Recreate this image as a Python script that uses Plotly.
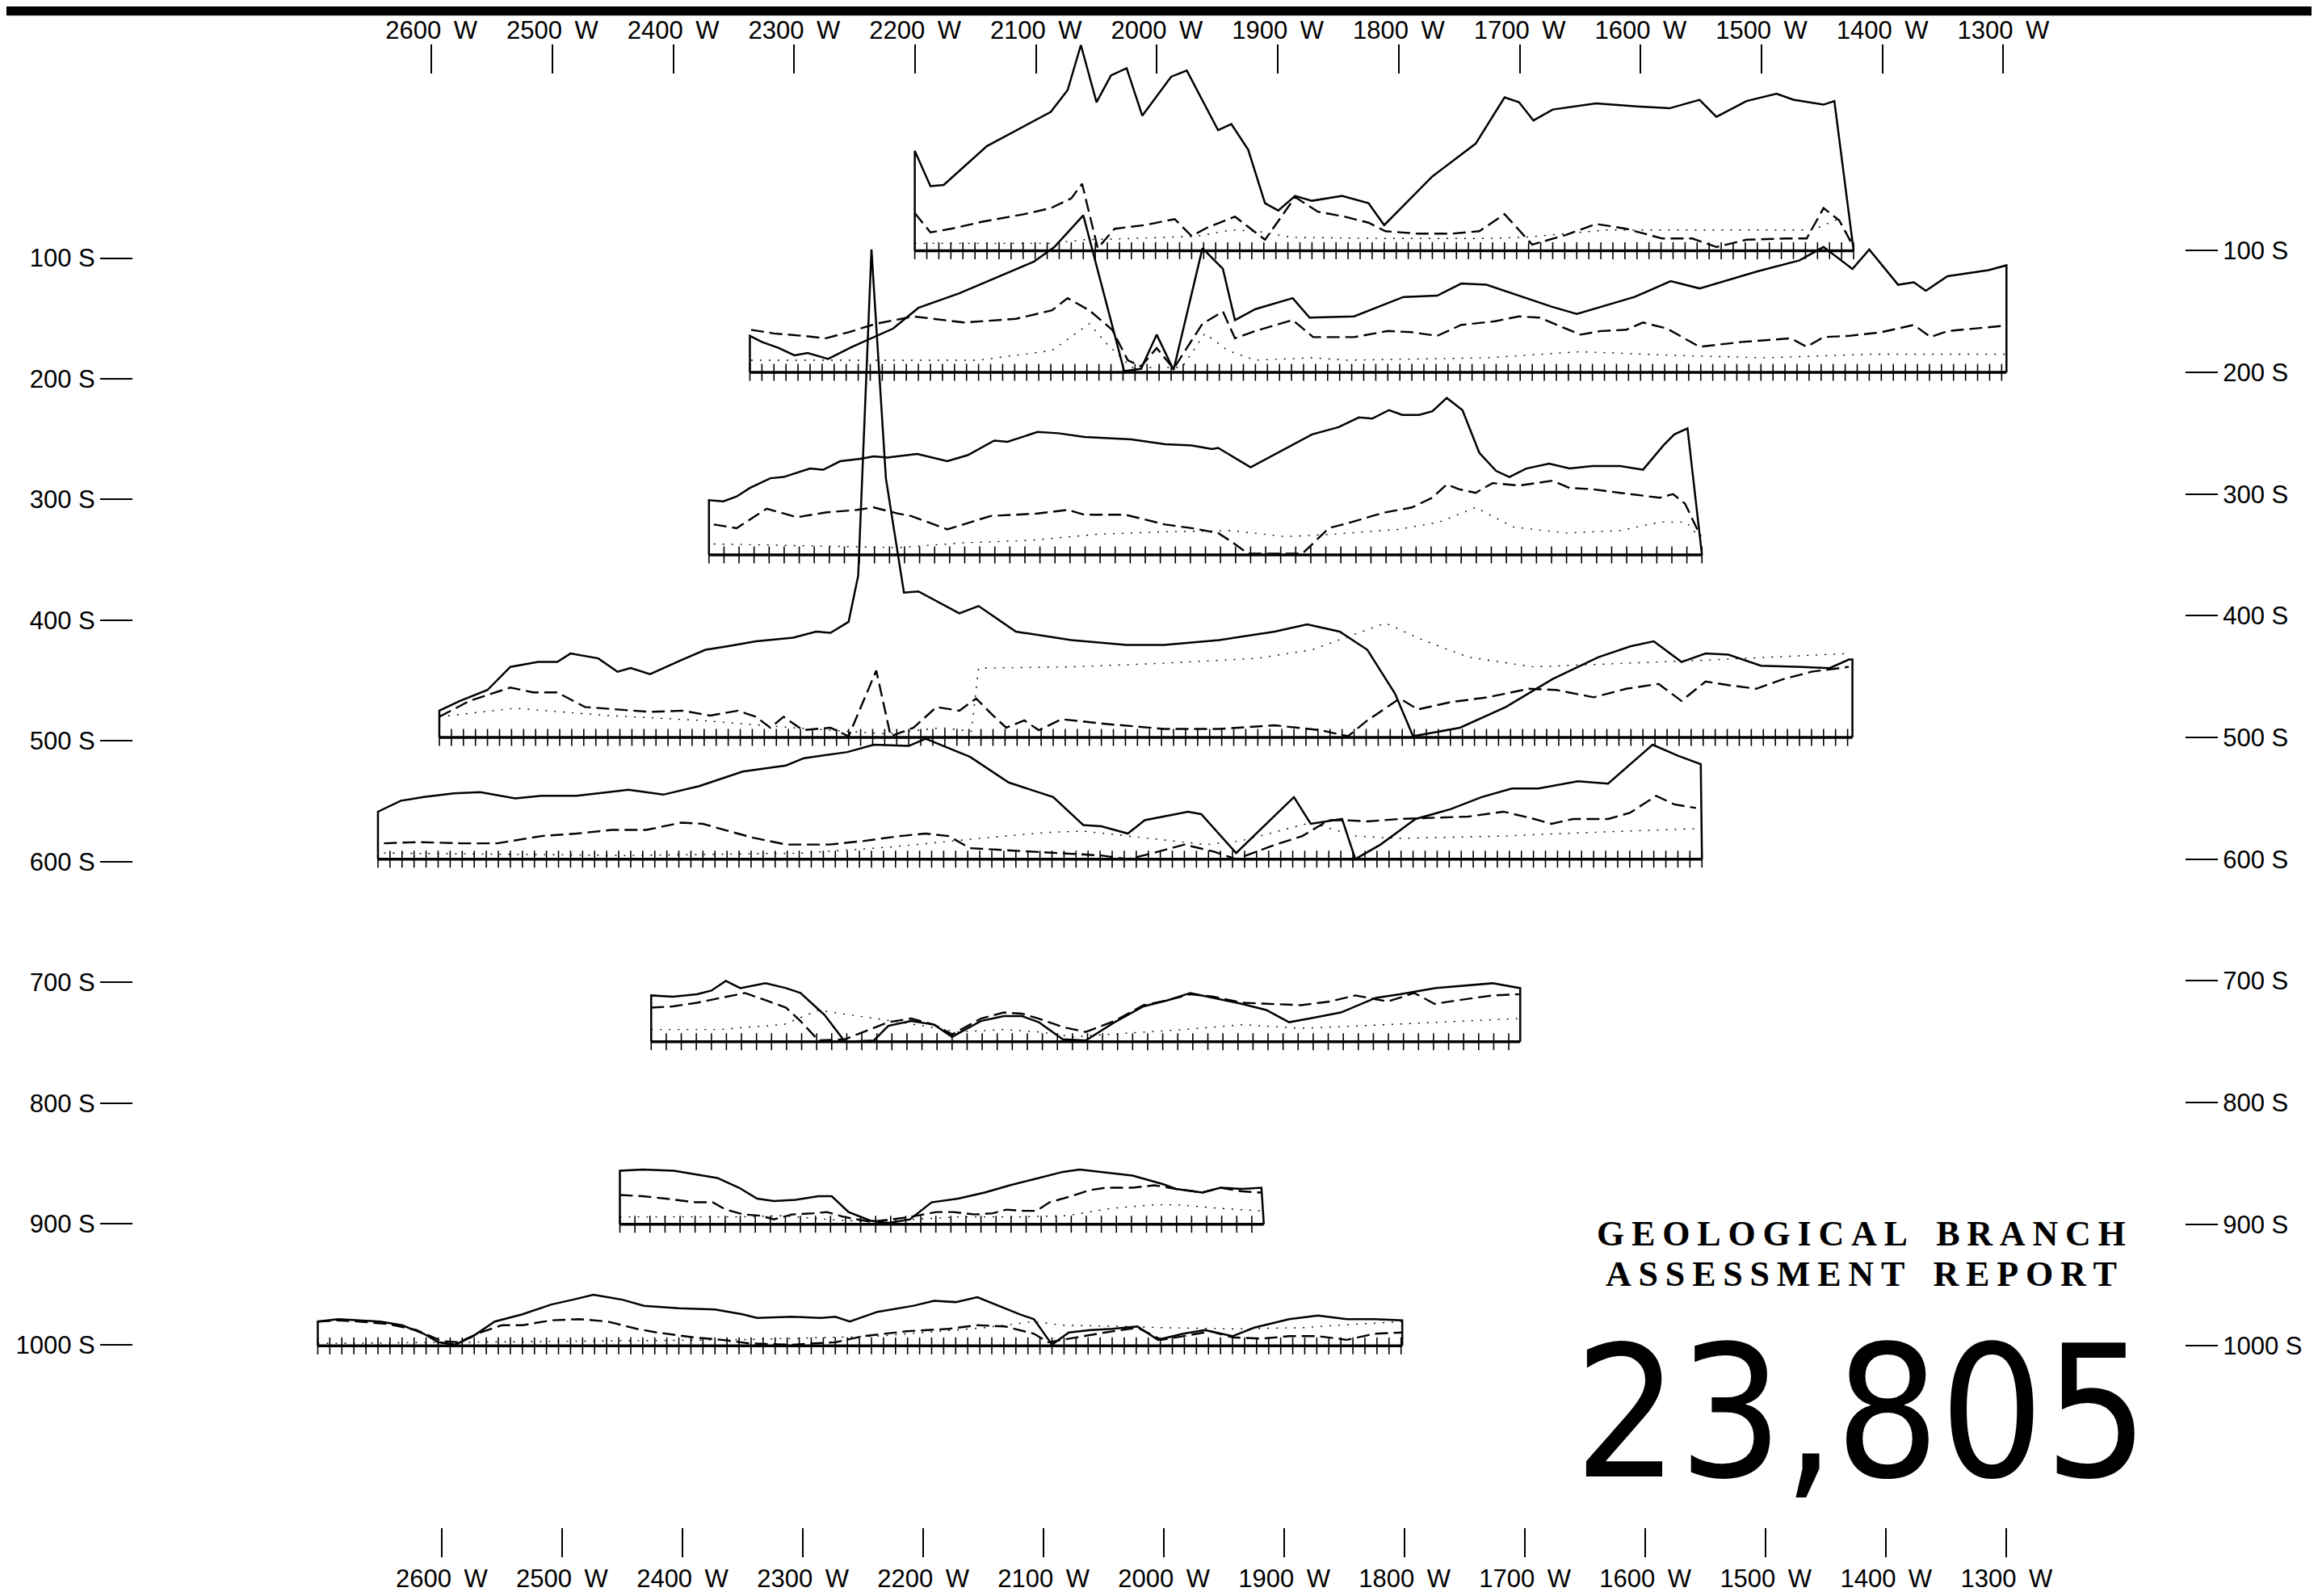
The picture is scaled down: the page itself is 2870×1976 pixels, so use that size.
import numpy as np
import plotly.graph_objs as go

# survey lines (S) and the extent of each profile (W)
LINES = [100, 200, 350, 500, 600, 750, 900, 1000]
START_W = [2207, 2344, 2378, 2602, 2653, 2426, 2452, 2703]
END_W = [1427, 1300, 1553, 1428, 1553, 1704, 1917, 1802]
STATION_STEP = [10, 10, 12.5, 10, 10, 12.5, 12.5, 10]

AXIS_W = [2600, 2500, 2400, 2300, 2200, 2100, 2000, 1900, 1800, 1700, 1600, 1500, 1400, 1300]
W_LABELS = [f"{w}\u2002W" for w in AXIS_W]
AXIS_S = [100, 200, 300, 400, 500, 600, 700, 800, 900, 1000]
S_LABELS_LEFT = [f"{s} S" for s in AXIS_S]
S_LABELS_RIGHT = [f"{s} S" for s in AXIS_S]

# ---- line 100 S ----
L100_SOLID_W = [2207, 2207, 2194, 2183, 2147, 2094, 2080, 2069, 2056, 2044, 2031, 2018, 1994, 1981, 1955,
                1944, 1930, 1916, 1905, 1891, 1877, 1852, 1830, 1817, 1777, 1741, 1717, 1705, 1693, 1677,
                1641, 1614, 1580, 1555, 1541, 1516, 1491, 1477, 1452, 1443, 1427]
L100_SOLID = [0, 82, 53, 54, 86, 114, 132, 169, 122, 144, 150, 111, 143, 148, 99,
              104, 83, 39, 33, 45, 41, 45, 39, 21, 61, 88, 126, 122, 107, 116,
              121, 119, 117, 124, 110, 123, 129, 124, 120, 123, 0]
L100_DASH_W = [2207, 2194, 2177, 2150, 2116, 2094, 2077, 2068, 2055, 2041, 2016, 1991, 1977, 1964, 1941,
               1916, 1891, 1872, 1850, 1830, 1816, 1789, 1761, 1738, 1717, 1694, 1666, 1641, 1616, 1586,
               1561, 1541, 1516, 1483, 1466, 1452, 1439, 1427]
L100_DASH = [31, 15, 18, 24, 30, 35, 43, 55, 2, 18, 21, 26, 12, 19, 28,
             9, 44, 32, 28, 23, 16, 14, 14, 16, 30, 5, 13, 22, 18, 10,
             10, 3, 9, 10, 10, 35, 25, 3]
L100_DOT_W = [2207, 2094, 2066, 2027, 1972, 1944, 1922, 1894, 1816, 1733, 1700, 1633, 1539, 1461, 1440, 1427]
L100_DOT = [6, 6, 9, 10, 12, 17, 16, 11, 10, 10, 11, 17, 17, 17, 26, 6]

# ---- line 200 S ----
L200_SOLID_W = [2344, 2344, 2334, 2320, 2307, 2296, 2279, 2259, 2225, 2204, 2170, 2136, 2108, 2091, 2067,
                2033, 2019, 2006, 1992, 1968, 1951, 1941, 1924, 1893, 1879, 1842, 1801, 1773, 1753, 1732,
                1678, 1657, 1609, 1579, 1555, 1507, 1472, 1452, 1428, 1414, 1390, 1377, 1367, 1349, 1315,
                1300, 1300]
L200_SOLID = [0, 30, 25, 20, 14, 16, 11, 21, 36, 53, 65, 79, 91, 103, 129,
              1, 3, 31, 2, 102, 85, 43, 52, 61, 45, 46, 62, 63, 73, 72,
              54, 48, 62, 75, 69, 83, 92, 103, 85, 101, 72, 74, 67, 79, 84,
              88, 0]
L200_DASH_W = [2343, 2324, 2300, 2281, 2262, 2239, 2208, 2166, 2123, 2093, 2080, 2062, 2043, 2030, 2019,
               2006, 1992, 1968, 1951, 1941, 1924, 1893, 1876, 1842, 1814, 1794, 1773, 1753, 1725, 1705,
               1688, 1654, 1637, 1616, 1602, 1582, 1555, 1520, 1479, 1466, 1452, 1431, 1404, 1377, 1363,
               1349, 1305, 1300]
L200_DASH = [35, 32, 30, 28, 33, 40, 46, 41, 44, 51, 61, 51, 35, 10, 5,
             20, 3, 40, 50, 28, 34, 43, 29, 29, 34, 33, 30, 39, 42, 46,
             45, 31, 34, 35, 41, 36, 21, 25, 28, 21, 29, 30, 33, 39, 29,
             34, 38, 38]
L200_DOT_W = [2343, 2154, 2093, 2073, 2062, 2047, 2027, 1985, 1966, 1947, 1924, 1877, 1847, 1731, 1654,
              1577, 1501, 1410, 1300]
L200_DOT = [10, 10, 18, 32, 40, 23, 4, 4, 32, 18, 10, 12, 10, 12, 17, 14, 12, 15, 15]

# ---- line 350 S ----
L350_SOLID_W = [2378, 2378, 2366, 2355, 2344, 2327, 2316, 2294, 2283, 2269, 2252, 2241, 2230, 2205, 2180,
                2163, 2141, 2130, 2105, 2088, 2066, 2027, 1999, 1977, 1960, 1955, 1928, 1905, 1877, 1855,
                1838, 1827, 1813, 1802, 1788, 1777, 1765, 1752, 1738, 1724, 1713, 1699, 1680, 1663, 1644,
                1621, 1602, 1585, 1576, 1565, 1555, 1553]
L350_SOLID = [0, 45, 44, 48, 55, 63, 64, 71, 70, 77, 79, 81, 80, 83, 77,
              82, 94, 93, 101, 100, 97, 95, 91, 90, 87, 88, 72, 84, 99, 105,
              113, 112, 119, 115, 115, 118, 129, 119, 84, 69, 64, 71, 75, 71, 73,
              73, 70, 90, 99, 104, 15, 0]
L350_DASH_W = [2374, 2355, 2330, 2305, 2280, 2255, 2241, 2221, 2210, 2180, 2144, 2105, 2080, 2066, 2032,
               1999, 1977, 1955, 1944, 1930, 1910, 1885, 1863, 1844, 1827, 1816, 1794, 1777, 1765, 1755,
               1741, 1727, 1705, 1677, 1663, 1644, 1621, 1588, 1577, 1567, 1554]
L350_DASH = [25, 22, 38, 31, 35, 37, 39, 34, 32, 21, 32, 34, 37, 33, 33,
             25, 22, 18, 11, 1, 1, 1, 22, 27, 32, 35, 39, 47, 58, 54,
             51, 59, 57, 61, 55, 54, 51, 47, 50, 42, 15]
L350_DOT_W = [2374, 2221, 2166, 2110, 2055, 1999, 1944, 1899, 1860, 1805, 1771, 1741, 1710, 1666, 1621,
              1588, 1566, 1554]
L350_DOT = [9, 6, 10, 12, 17, 19, 20, 15, 17, 21, 27, 39, 23, 18, 20, 27, 27, 13]

# ---- line 500 S ----
L500_SOLID_W = [2602, 2602, 2585, 2562, 2543, 2520, 2504, 2493, 2470, 2454, 2443, 2427, 2400, 2381, 2362,
                2339, 2308, 2289, 2277, 2262, 2254, 2243, 2231, 2216, 2204, 2170, 2154, 2123, 2077, 2031,
                2000, 1954, 1908, 1881, 1854, 1831, 1808, 1793, 1754, 1716, 1677, 1639, 1612, 1593, 1570,
                1550, 1531, 1504, 1470, 1447, 1431, 1428, 1428]
L500_SOLID = [0, 22, 30, 39, 58, 62, 62, 69, 65, 54, 57, 52, 64, 72, 75,
              79, 82, 87, 86, 95, 133, 401, 213, 119, 120, 102, 108, 87, 80, 76,
              76, 80, 87, 93, 87, 72, 36, 1, 8, 25, 48, 66, 75, 79, 62,
              69, 68, 59, 58, 57, 64, 64, 0]
L500_DASH_W = [2602, 2577, 2543, 2524, 2504, 2481, 2454, 2427, 2400, 2377, 2354, 2339, 2327, 2316, 2300,
               2277, 2262, 2239, 2227, 2208, 2189, 2170, 2156, 2143, 2131, 2116, 2104, 2085, 2047, 2000,
               1954, 1908, 1870, 1847, 1831, 1804, 1789, 1762, 1731, 1697, 1674, 1643, 1616, 1589, 1570,
               1550, 1531, 1508, 1485, 1462, 1431]
L500_DASH = [17, 30, 41, 37, 37, 25, 23, 21, 22, 18, 22, 17, 8, 17, 6,
             8, 1, 55, 1, 8, 25, 22, 32, 19, 8, 14, 6, 15, 11, 7,
             7, 10, 6, 1, 14, 32, 23, 29, 33, 40, 39, 33, 40, 44, 30,
             46, 43, 40, 48, 54, 58]
L500_DOT_W = [2602, 2539, 2462, 2385, 2308, 2231, 2185, 2160, 2154, 2077, 2000, 1923, 1877, 1816, 1785,
              1747, 1693, 1616, 1539, 1431]
L500_DOT = [17, 24, 18, 14, 8, 3, 8, 5, 57, 58, 61, 65, 72, 94, 80, 66, 58, 61, 64, 69]

# ---- line 600 S ----
L600_SOLID_W = [2653, 2653, 2634, 2615, 2590, 2568, 2539, 2517, 2488, 2470, 2445, 2416, 2386, 2350, 2314,
                2299, 2263, 2241, 2212, 2198, 2161, 2129, 2110, 2092, 2067, 2052, 2030, 2016, 1980, 1969,
                1940, 1892, 1878, 1852, 1841, 1820, 1791, 1762, 1736, 1711, 1689, 1656, 1631, 1594, 1573,
                1554, 1553]
L600_SOLID = [0, 39, 48, 51, 54, 55, 50, 52, 52, 54, 57, 53, 60, 72, 77,
              83, 88, 94, 93, 99, 84, 63, 57, 51, 28, 27, 21, 32, 39, 37,
              5, 51, 29, 33, 0, 12, 33, 41, 51, 58, 58, 64, 62, 94, 85,
              78, 0]
L600_DASH_W = [2648, 2619, 2583, 2554, 2517, 2488, 2459, 2430, 2401, 2383, 2365, 2343, 2314, 2278, 2249,
               2219, 2198, 2179, 2161, 2125, 2081, 2052, 2030, 2009, 1983, 1958, 1940, 1907, 1885, 1863,
               1849, 1831, 1805, 1776, 1747, 1718, 1696, 1678, 1660, 1631, 1613, 1591, 1576, 1558]
L600_DASH = [13, 14, 13, 13, 19, 21, 24, 24, 30, 29, 24, 18, 12, 12, 15,
             19, 21, 19, 9, 7, 5, 3, 0, 5, 12, 6, 0, 12, 19, 32,
             32, 31, 33, 34, 35, 39, 34, 29, 33, 33, 38, 52, 45, 42]
L600_DOT_W = [2648, 2445, 2299, 2227, 2154, 2096, 2067, 2009, 1965, 1936, 1878, 1841, 1805, 1718, 1645, 1558]
L600_DOT = [5, 3, 5, 10, 17, 22, 23, 17, 12, 15, 30, 19, 17, 19, 22, 25]

# ---- line 750 S ----
L750_SOLID_W = [2426, 2426, 2408, 2388, 2376, 2364, 2352, 2331, 2314, 2302, 2282, 2265, 2241, 2229, 2210,
                2191, 2176, 2152, 2133, 2118, 2104, 2084, 2065, 2041, 2017, 1997, 1978, 1959, 1935, 1915,
                1896, 1879, 1853, 1824, 1804, 1775, 1751, 1727, 1704, 1704]
L750_SOLID = [0, 38, 37, 39, 42, 50, 44, 48, 44, 40, 22, 0, 1, 13, 17,
              14, 4, 17, 21, 21, 16, 2, 1, 16, 29, 34, 40, 36, 31, 26,
              16, 19, 24, 36, 39, 44, 46, 48, 44, 0]
L750_DASH_W = [2426, 2408, 2388, 2369, 2348, 2328, 2314, 2302, 2287, 2265, 2249, 2229, 2210, 2191, 2176,
               2152, 2133, 2118, 2104, 2084, 2065, 2041, 2017, 1997, 1978, 1959, 1935, 1911, 1886, 1862,
               1841, 1814, 1792, 1775, 1756, 1727, 1705]
L750_DASH = [28, 29, 32, 36, 40, 33, 28, 17, 1, 2, 8, 16, 19, 14, 6,
             19, 24, 23, 19, 12, 8, 17, 30, 34, 39, 37, 32, 31, 30, 33,
             38, 33, 40, 31, 34, 38, 39]
L750_DOT_W = [2426, 2369, 2345, 2316, 2287, 2268, 2239, 2200, 2171, 2133, 2104, 2075, 2031, 1983, 1935,
              1886, 1838, 1766, 1705]
L750_DOT = [10, 10, 12, 14, 26, 23, 19, 13, 8, 10, 8, 4, 7, 10, 14, 11, 13, 16, 19]

# ---- line 900 S ----
L900_SOLID_W = [2452, 2452, 2433, 2407, 2389, 2371, 2353, 2338, 2324, 2306, 2287, 2276, 2262, 2244, 2229,
                2211, 2193, 2171, 2149, 2128, 2108, 2084, 2070, 2044, 2026, 2001, 1990, 1968, 1953, 1935,
                1919, 1917]
L900_SOLID = [0, 44, 45, 44, 41, 38, 30, 21, 19, 20, 23, 23, 10, 3, 1,
              4, 18, 21, 26, 32, 37, 43, 45, 42, 40, 33, 29, 26, 30, 29,
              30, 0]
L900_DASH_W = [2452, 2433, 2414, 2389, 2375, 2364, 2349, 2335, 2324, 2309, 2291, 2280, 2266, 2244, 2226,
               2211, 2189, 2175, 2157, 2142, 2131, 2117, 2106, 2095, 2077, 2062, 2048, 2026, 2008, 1990,
               1968, 1953, 1935, 1919]
L900_DASH = [24, 23, 21, 18, 18, 12, 8, 7, 4, 8, 9, 10, 6, 2, 4,
             6, 10, 10, 8, 9, 12, 11, 11, 18, 23, 28, 30, 30, 32, 29,
             26, 30, 27, 26]
L900_DOT_W = [2452, 2389, 2353, 2317, 2280, 2244, 2207, 2171, 2120, 2081, 2044, 2008, 1990, 1953, 1919]
L900_DOT = [6, 6, 6, 7, 4, 2, 4, 6, 6, 7, 13, 16, 16, 13, 11]

# ---- line 1000 S ----
L1000_SOLID_W = [2703, 2703, 2686, 2668, 2651, 2633, 2615, 2603, 2589, 2574, 2556, 2533, 2509, 2491, 2474,
                 2450, 2432, 2403, 2373, 2350, 2338, 2309, 2285, 2273, 2261, 2238, 2208, 2191, 2173, 2155,
                 2138, 2120, 2108, 2093, 2079, 2061, 2043, 2022, 2005, 1984, 1966, 1943, 1925, 1896, 1872,
                 1848, 1825, 1802, 1802]
L1000_SOLID = [0, 20, 22, 21, 20, 17, 10, 3, 1, 8, 20, 26, 34, 38, 42,
               38, 33, 31, 30, 26, 23, 24, 23, 24, 20, 28, 33, 37, 36, 40,
               33, 26, 22, 1, 11, 13, 14, 16, 5, 10, 13, 8, 15, 22, 25,
               22, 22, 21, 0]
L1000_DASH_W = [2703, 2686, 2668, 2645, 2621, 2600, 2586, 2568, 2550, 2533, 2509, 2486, 2462, 2438, 2421,
                2391, 2367, 2344, 2309, 2273, 2250, 2214, 2179, 2155, 2132, 2108, 2096, 2073, 2049, 2022,
                2002, 1984, 1961, 1943, 1919, 1896, 1872, 1848, 1825, 1802]
L1000_DASH = [20, 21, 20, 18, 13, 4, 3, 11, 17, 17, 21, 22, 20, 14, 11,
              7, 5, 2, 1, 3, 8, 12, 14, 17, 16, 10, 3, 7, 11, 15,
              5, 8, 12, 7, 6, 8, 8, 5, 10, 11]
L1000_DOT_W = [2703, 2592, 2474, 2356, 2238, 2149, 2108, 2084, 2031, 2002, 1943, 1884, 1855, 1802]
L1000_DOT = [2, 3, 4, 5, 8, 15, 20, 17, 16, 15, 14, 15, 17, 20]

PROFILES = [
    (L100_SOLID_W, L100_SOLID, L100_DASH_W, L100_DASH, L100_DOT_W, L100_DOT),
    (L200_SOLID_W, L200_SOLID, L200_DASH_W, L200_DASH, L200_DOT_W, L200_DOT),
    (L350_SOLID_W, L350_SOLID, L350_DASH_W, L350_DASH, L350_DOT_W, L350_DOT),
    (L500_SOLID_W, L500_SOLID, L500_DASH_W, L500_DASH, L500_DOT_W, L500_DOT),
    (L600_SOLID_W, L600_SOLID, L600_DASH_W, L600_DASH, L600_DOT_W, L600_DOT),
    (L750_SOLID_W, L750_SOLID, L750_DASH_W, L750_DASH, L750_DOT_W, L750_DOT),
    (L900_SOLID_W, L900_SOLID, L900_DASH_W, L900_DASH, L900_DOT_W, L900_DOT),
    (L1000_SOLID_W, L1000_SOLID, L1000_DASH_W, L1000_DASH, L1000_DOT_W, L1000_DOT),
]

fig = go.Figure()

for i, line in enumerate(LINES):
    sw, sv, dw, dv, ow, ov = PROFILES[i]
    # baseline with station crosses
    fig.add_trace(go.Scatter(x=[START_W[i], END_W[i]], y=[line, line], mode='lines',
                             line=dict(color='black', width=3.5)))
    stations = np.arange(START_W[i], END_W[i] - 0.01, -STATION_STEP[i]).tolist()
    fig.add_trace(go.Scatter(x=stations, y=[line] * len(stations), mode='markers',
                             marker=dict(symbol='line-ns', size=15, color='black',
                                         line=dict(color='black', width=1.6))))
    # profiles drawn upward from the baseline
    fig.add_trace(go.Scatter(x=ow, y=[line - v for v in ov], mode='lines',
                             line=dict(color='black', width=1.4, dash='2px,9px')))
    fig.add_trace(go.Scatter(x=dw, y=[line - v for v in dv], mode='lines',
                             line=dict(color='black', width=2.4, dash='16px,7px')))
    fig.add_trace(go.Scatter(x=sw, y=[line - v for v in sv], mode='lines',
                             line=dict(color='black', width=2.5)))

# keeps the top / left label axes alive
fig.add_trace(go.Scatter(x=[2000], y=[500], mode='markers', marker=dict(opacity=0),
                         xaxis='x2', yaxis='y2', hoverinfo='skip'))

tickfont = dict(family='Liberation Sans, Arial, sans-serif', size=31, color='black')
common_x = dict(tickmode='array', tickvals=AXIS_W, ticktext=W_LABELS,
                ticklen=36, tickwidth=2, tickcolor='black', showgrid=False, zeroline=False,
                showline=False, tickfont=tickfont)
common_y = dict(tickmode='array', tickvals=AXIS_S, ticks='outside', ticklen=40, tickwidth=2,
                tickcolor='black', showgrid=False, zeroline=False, showline=False, tickfont=tickfont)

fig.update_layout(
    width=2870, height=1976,
    margin=dict(l=153, r=173, t=43, b=90),
    paper_bgcolor='white', plot_bgcolor='white',
    showlegend=False,
    xaxis=dict(range=[2856.3, 1151.9], side='bottom', ticks='outside', **common_x),
    xaxis2=dict(range=[2846.6, 1150.0], side='top', overlaying='x', ticks='inside', **common_x),
    yaxis=dict(range=[1149.1, -69.5], side='right', ticktext=S_LABELS_RIGHT, **common_y),
    yaxis2=dict(range=[1151.4, -77.0], side='left', overlaying='y', ticktext=S_LABELS_LEFT, **common_y),
    shapes=[dict(type='rect', xref='paper', yref='paper', x0=-0.07, x1=1.07,
                 y0=1.0195, y1=1.04, fillcolor='black', line=dict(width=0))],
)

sp = '\u2009'
fig.add_annotation(x=0.8422, y=0.1982, xref='paper', yref='paper', showarrow=False,
                   xanchor='center', yanchor='middle',
                   text=sp.join('GEOLOGICAL') + sp * 4 + sp.join('BRANCH'),
                   font=dict(family='Liberation Serif, serif', size=44, color='black', weight='bold'))
fig.add_annotation(x=0.8422, y=0.1707, xref='paper', yref='paper', showarrow=False,
                   xanchor='center', yanchor='middle',
                   text=sp.join('ASSESSMENT') + sp * 4 + sp.join('REPORT'),
                   font=dict(family='Liberation Serif, serif', size=44, color='black', weight='bold'))
fig.add_annotation(x=0.8422, y=0.0770, xref='paper', yref='paper', showarrow=False,
                   xanchor='center', yanchor='middle',
                   text='23,805',
                   font=dict(family='DejaVu Sans Condensed, sans-serif', size=226, color='black'))

fig.write_html("out.html")
